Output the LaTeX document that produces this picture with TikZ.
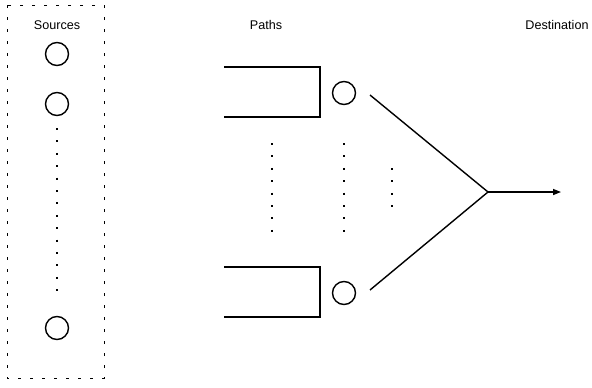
\documentclass[tikz,border=0pt]{standalone}
\usepackage{fontspec}
\setmainfont{Liberation Sans}
\usetikzlibrary{arrows.meta}
\begin{document}
\begin{tikzpicture}[x=1pt,y=-1pt,
  label text/.style={font=\fontsize{12.6}{14}\selectfont, inner sep=0pt},
  port/.style={circle, draw, line width=1.4pt, minimum size=23pt, inner sep=0pt},
  wire/.style={line width=1.4pt},
  dotcol/.style={line width=2pt, dash pattern=on 2pt off 10.4pt},
  frame/.style={line width=0.8pt, dash pattern=on 3pt off 9pt}]
\useasboundingbox (0,0) rectangle (592,388);

% source group frame
\draw[frame] (7,5) rectangle (104,378);

% headings
\node[label text] (src) at (57,25) {Sources};
\node[label text] (pth) at (266,25) {Paths};
\node[label text] (dst) at (557,25) {Destination};

% sources
\node[port] (s1) at (57,54) {};
\node[port] (s2) at (57,104) {};
\node[port] (s3) at (57,328) {};
\coordinate (sd1) at (57,128);
\coordinate (sd2) at (57,300);
\draw[dotcol] (sd1) -- (sd2);

% upper path
\coordinate (u1) at (224,67);
\coordinate (u2) at (320,67);
\coordinate (u3) at (320,117);
\coordinate (u4) at (224,117);
\draw[wire] (u1) -- (u2) -- (u3) -- (u4);
\node[port] (p1) at (344,93) {};

% lower path
\coordinate (l1) at (224,267);
\coordinate (l2) at (320,267);
\coordinate (l3) at (320,317);
\coordinate (l4) at (224,317);
\draw[wire] (l1) -- (l2) -- (l3) -- (l4);
\node[port] (p2) at (344,293) {};

% ellipses between paths
\coordinate (c1a) at (272,143);
\coordinate (c1b) at (272,236);
\coordinate (c2a) at (344,143);
\coordinate (c2b) at (344,236);
\coordinate (c3a) at (392,168);
\coordinate (c3b) at (392,212);
\draw[dotcol] (c1a) -- (c1b);
\draw[dotcol] (c2a) -- (c2b);
\draw[dotcol] (c3a) -- (c3b);

% merge and output
\coordinate (m) at (488,192);
\coordinate (ua) at (370,95);
\coordinate (la) at (370,290);
\coordinate (out) at (561,192);
\draw[wire] (ua) -- (m) -- (la);
\draw[wire, -{Triangle[length=8pt,width=6pt]}] (m) -- (out);
\end{tikzpicture}
\end{document}
